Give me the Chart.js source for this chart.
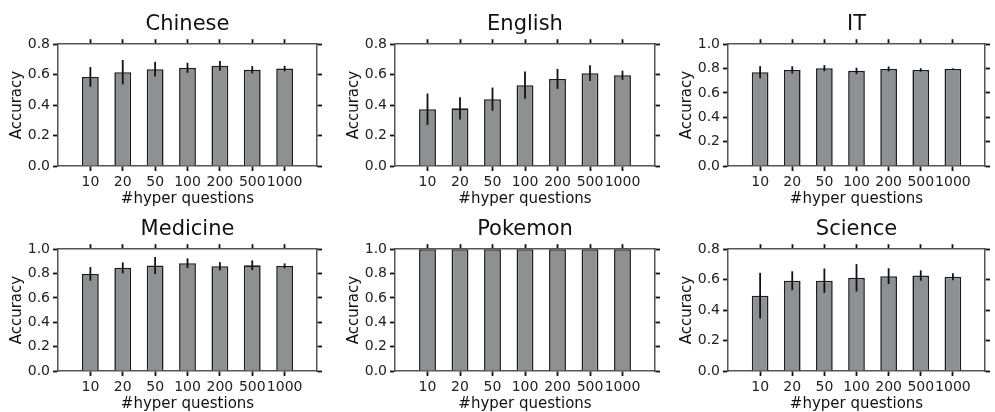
<!DOCTYPE html>
<html>
<head>
<meta charset="utf-8">
<script src="https://cdn.jsdelivr.net/npm/chart.js@4.4.1/dist/chart.umd.min.js"></script>
<style>
  html, body { margin: 0; padding: 0; background: #fff; }
  #fig { position: relative; width: 995px; height: 412px; overflow: hidden; background: #fff; }
  #fig canvas { position: absolute; }
</style>
</head>
<body>
<div id="fig"></div>
<script>
// Number of hyper questions (x categories)
const categories = ['10', '20', '50', '100', '200', '500', '1000'];

// Mean accuracy and error (half-length of the error bar) per subject
const chineseAcc  = [0.585, 0.616, 0.636, 0.645, 0.658, 0.632, 0.640];
const chineseErr  = [0.065, 0.080, 0.048, 0.033, 0.032, 0.024, 0.018];
const englishAcc  = [0.373, 0.379, 0.439, 0.531, 0.572, 0.610, 0.596];
const englishErr  = [0.103, 0.073, 0.076, 0.090, 0.066, 0.052, 0.030];
const itAcc       = [0.770, 0.789, 0.803, 0.781, 0.797, 0.789, 0.797];
const itErr       = [0.050, 0.030, 0.025, 0.026, 0.020, 0.014, 0.005];
const medicineAcc = [0.797, 0.847, 0.866, 0.885, 0.860, 0.868, 0.863];
const medicineErr = [0.056, 0.045, 0.070, 0.040, 0.034, 0.040, 0.020];
const pokemonAcc  = [1.0, 1.0, 1.0, 1.0, 1.0, 1.0, 1.0];
const pokemonErr  = [0, 0, 0, 0, 0, 0, 0];
const scienceAcc  = [0.495, 0.593, 0.593, 0.612, 0.623, 0.627, 0.619];
const scienceErr  = [0.150, 0.062, 0.080, 0.090, 0.052, 0.034, 0.023];

// Axis upper limits per subject
const yMaxima = { Chinese: 0.8, English: 0.8, IT: 1.0, Medicine: 1.0, Pokemon: 1.0, Science: 0.8 };

const FONT = "'DejaVu Sans', 'Liberation Sans', sans-serif";

// Panel grid: plot-area edges in page pixels
const panels = [
  { title: 'Chinese',  acc: chineseAcc,  err: chineseErr,  left: 58,  right: 317, top: 44,  bottom: 166 },
  { title: 'English',  acc: englishAcc,  err: englishErr,  left: 395, right: 655, top: 44,  bottom: 166 },
  { title: 'IT',       acc: itAcc,       err: itErr,       left: 728, right: 985, top: 44,  bottom: 166 },
  { title: 'Medicine', acc: medicineAcc, err: medicineErr, left: 58,  right: 317, top: 249, bottom: 371 },
  { title: 'Pokemon',  acc: pokemonAcc,  err: pokemonErr,  left: 395, right: 655, top: 249, bottom: 371 },
  { title: 'Science',  acc: scienceAcc,  err: scienceErr,  left: 728, right: 985, top: 249, bottom: 371 }
];

const Y_AXIS_W = 58, Y2_AXIS_W = 8, HEAD_H = 44, X_AXIS_H = 42;

// Vertical error bars drawn through the value scale
const errorBars = {
  id: 'errorBars',
  afterDatasetsDraw(chart, args, opts) {
    const { ctx } = chart;
    const y = chart.scales.y;
    chart.data.datasets.forEach((ds, di) => {
      const meta = chart.getDatasetMeta(di);
      const errs = ds.errors || [];
      meta.data.forEach((bar, i) => {
        const e = errs[i];
        if (!e) return;
        const v = ds.data[i].y;
        ctx.save();
        ctx.strokeStyle = opts.color;
        ctx.lineWidth = opts.width;
        ctx.beginPath();
        ctx.moveTo(bar.x, y.getPixelForValue(v + e));
        ctx.lineTo(bar.x, y.getPixelForValue(v - e));
        ctx.stroke();
        ctx.restore();
      });
    });
  }
};

// Keep each panel title centred over its plot area
const titleOverArea = {
  id: 'titleOverArea',
  afterLayout(chart) {
    const t = chart.titleBlock;
    if (!t) return;
    t.left = chart.chartArea.left;
    t.right = chart.chartArea.right;
    t.width = t.right - t.left;
  }
};

const keepCategoryTicks = s => {
  s.ticks = s.ticks.filter(t => t.value >= 0 && t.value < categories.length);
};

const tickGrid = { offset: false, drawOnChartArea: false, drawTicks: true, tickLength: 5, tickColor: '#111', tickWidth: 1.8 };
const spine = { display: true, color: '#555', width: 1.5 };

const fig = document.getElementById('fig');

panels.forEach(p => {
  const canvas = document.createElement('canvas');
  const w = (p.right - p.left) + Y_AXIS_W + Y2_AXIS_W;
  const h = HEAD_H + (p.bottom - p.top) + X_AXIS_H;
  canvas.width = w;
  canvas.height = h;
  canvas.style.width = w + 'px';
  canvas.style.height = h + 'px';
  canvas.style.left = (p.left - Y_AXIS_W) + 'px';
  canvas.style.top = (p.top - HEAD_H) + 'px';
  fig.appendChild(canvas);

  const yMax = yMaxima[p.title];

  new Chart(canvas, {
    type: 'bar',
    data: {
      datasets: [{
        data: p.acc.map((v, i) => ({ x: i, y: v })),
        errors: p.err,
        backgroundColor: '#8f9093',
        borderColor: '#1c1c1c',
        borderWidth: 1.6,
        barPercentage: 0.52,
        categoryPercentage: 1.0,
        xAxisID: 'x',
        yAxisID: 'y'
      }]
    },
    options: {
      responsive: false,
      animation: false,
      devicePixelRatio: 1,
      events: [],
      layout: { padding: 0, autoPadding: false },
      plugins: {
        legend: { display: false },
        tooltip: { enabled: false },
        title: {
          display: true,
          text: p.title,
          color: '#111',
          font: { family: FONT, size: 21, weight: 'normal' },
          padding: { top: 12, bottom: 1 }
        },
        errorBars: { color: '#111', width: 1.8 }
      },
      scales: {
        x: {
          type: 'linear',
          position: 'bottom',
          min: -1,
          max: categories.length,
          offset: false,
          afterBuildTicks: keepCategoryTicks,
          afterFit: s => { s.height = X_AXIS_H; },
          ticks: {
            stepSize: 1,
            autoSkip: false,
            maxRotation: 0,
            padding: 2.5,
            color: '#222',
            font: { family: FONT, size: 14 },
            callback: v => categories[v] ?? ''
          },
          grid: tickGrid,
          border: spine,
          title: {
            display: true,
            text: '#hyper questions',
            color: '#111',
            font: { family: FONT, size: 15 },
            padding: { top: 0, bottom: 0 }
          }
        },
        xTop: {
          type: 'linear',
          position: 'top',
          display: true,
          min: -1,
          max: categories.length,
          offset: false,
          afterBuildTicks: keepCategoryTicks,
          afterFit: s => { s.height = 6; },
          ticks: { display: false, stepSize: 1, autoSkip: false },
          grid: tickGrid,
          border: spine
        },
        y: {
          type: 'linear',
          position: 'left',
          min: 0,
          max: yMax,
          afterFit: s => { s.width = Y_AXIS_W; },
          ticks: {
            stepSize: 0.2,
            padding: 3,
            color: '#222',
            font: { family: FONT, size: 14 },
            callback: v => Number(v).toFixed(1)
          },
          grid: tickGrid,
          border: spine,
          title: {
            display: true,
            text: 'Accuracy',
            color: '#111',
            font: { family: FONT, size: 15 },
            padding: { top: 8, bottom: 0 }
          }
        },
        yRight: {
          type: 'linear',
          position: 'right',
          display: true,
          min: 0,
          max: yMax,
          afterFit: s => { s.width = Y2_AXIS_W; },
          ticks: { display: false, stepSize: 0.2 },
          grid: tickGrid,
          border: spine
        }
      }
    },
    plugins: [errorBars, titleOverArea]
  });
});
</script>
</body>
</html>
